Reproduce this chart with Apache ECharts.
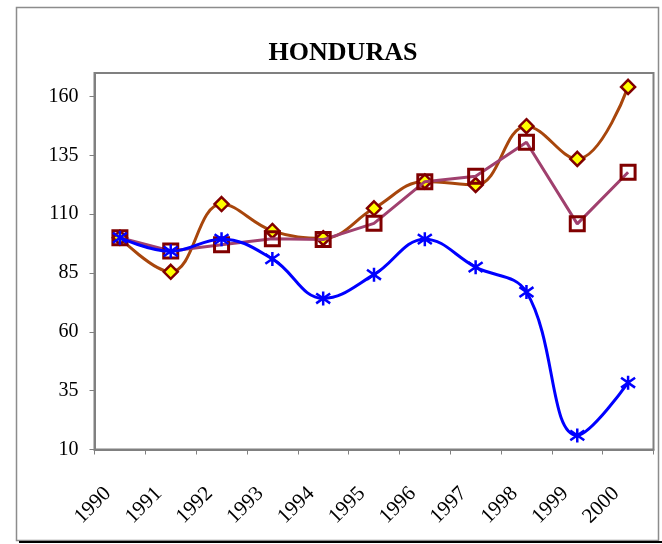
<!DOCTYPE html>
<html>
<head>
<meta charset="utf-8">
<script src="https://cdn.jsdelivr.net/npm/echarts@6/dist/echarts.min.js"></script>
<style>
html,body{margin:0;padding:0;background:#fff;}
#chart{width:662px;height:544px;}
</style>
</head>
<body>
<div id="chart"></div>
<script>
var years = ['1990','1991','1992','1993','1994','1995','1996','1997','1998','1999','2000'];
var diamondValues = [100, 85.5, 114.3, 102.9, 99.8, 112.5, 123.9, 122.4, 147.4, 133.5, 164.1];
var squareValues = [100, 94.4, 97, 99.6, 99.2, 106.1, 123.8, 126.1, 140.6, 105.9, 127.8];
var starValues = [100, 94.2, 99.4, 91, 74.2, 84.3, 99.4, 87.5, 76.9, 16, 38.4];
var titleText = 'HONDURAS';

var serif = '"Liberation Serif", "DejaVu Serif", serif';
var starPath = 'path://M10,0 L10,20 M2.93,2.93 L17.07,17.07 M2.93,17.07 L17.07,2.93';

var chart = echarts.init(document.getElementById('chart'), null, {renderer: 'canvas'});
chart.setOption({
  animation: false,
  backgroundColor: '#ffffff',
  title: {
    text: titleText,
    left: 338,
    top: 35,
    textAlign: 'center',
    textStyle: {fontFamily: serif, fontWeight: 'bold', fontSize: 26, color: '#000'}
  },
  graphic: [
    {type: 'rect', shape: {x: 16.5, y: 7.5, width: 642, height: 533}, style: {fill: 'none', stroke: '#8c8c8c', lineWidth: 1.5}, silent: true},
    {type: 'line', shape: {x1: 19, y1: 542, x2: 662, y2: 542}, style: {stroke: '#000', lineWidth: 2}, silent: true}
  ],
  grid: {
    left: 94.5, right: 8.5, top: 73, bottom: 94.5,
    show: true, borderColor: '#808080', borderWidth: 2, backgroundColor: '#fff'
  },
  xAxis: {
    type: 'category',
    data: years,
    boundaryGap: true,
    axisLine: {show: true, lineStyle: {color: '#808080', width: 2}},
    axisTick: {show: true, length: 5, lineStyle: {color: '#808080', width: 1}},
    axisLabel: {rotate: 45, margin: 29, padding: [0, 17, 0, 0], fontFamily: serif, fontSize: 21, color: '#000', interval: 0},
    splitLine: {show: false}
  },
  yAxis: {
    type: 'value',
    min: 10, max: 170, interval: 25,
    axisLine: {show: true, lineStyle: {color: '#808080', width: 2}},
    axisTick: {show: true, length: 5, lineStyle: {color: '#808080', width: 1}},
    axisLabel: {showMaxLabel: false, margin: 16, fontFamily: serif, fontSize: 20, color: '#000'},
    splitLine: {show: false}
  },
  series: [
    {
      name: 'Serie 1', type: 'line', data: diamondValues, smooth: 0.4,
      symbol: 'diamond', symbolSize: 14, showAllSymbol: true, z: 2,
      lineStyle: {color: '#A8460C', width: 3},
      itemStyle: {color: '#FFFF00', borderColor: '#800000', borderWidth: 2.5}
    },
    {
      name: 'Serie 2', type: 'line', data: squareValues, smooth: false,
      symbol: 'rect', symbolSize: 14, showAllSymbol: true, z: 3,
      lineStyle: {color: '#A0406E', width: 3},
      itemStyle: {color: 'rgba(255,255,255,0)', borderColor: '#800000', borderWidth: 3}
    },
    {
      name: 'Serie 3', type: 'line', data: starValues, smooth: 0.4,
      symbol: starPath, symbolSize: 14, showAllSymbol: true, z: 4,
      lineStyle: {color: '#0000FF', width: 3},
      itemStyle: {color: '#0000FF', borderColor: '#0000FF', borderWidth: 2.5}
    }
  ]
});
</script>
</body>
</html>
